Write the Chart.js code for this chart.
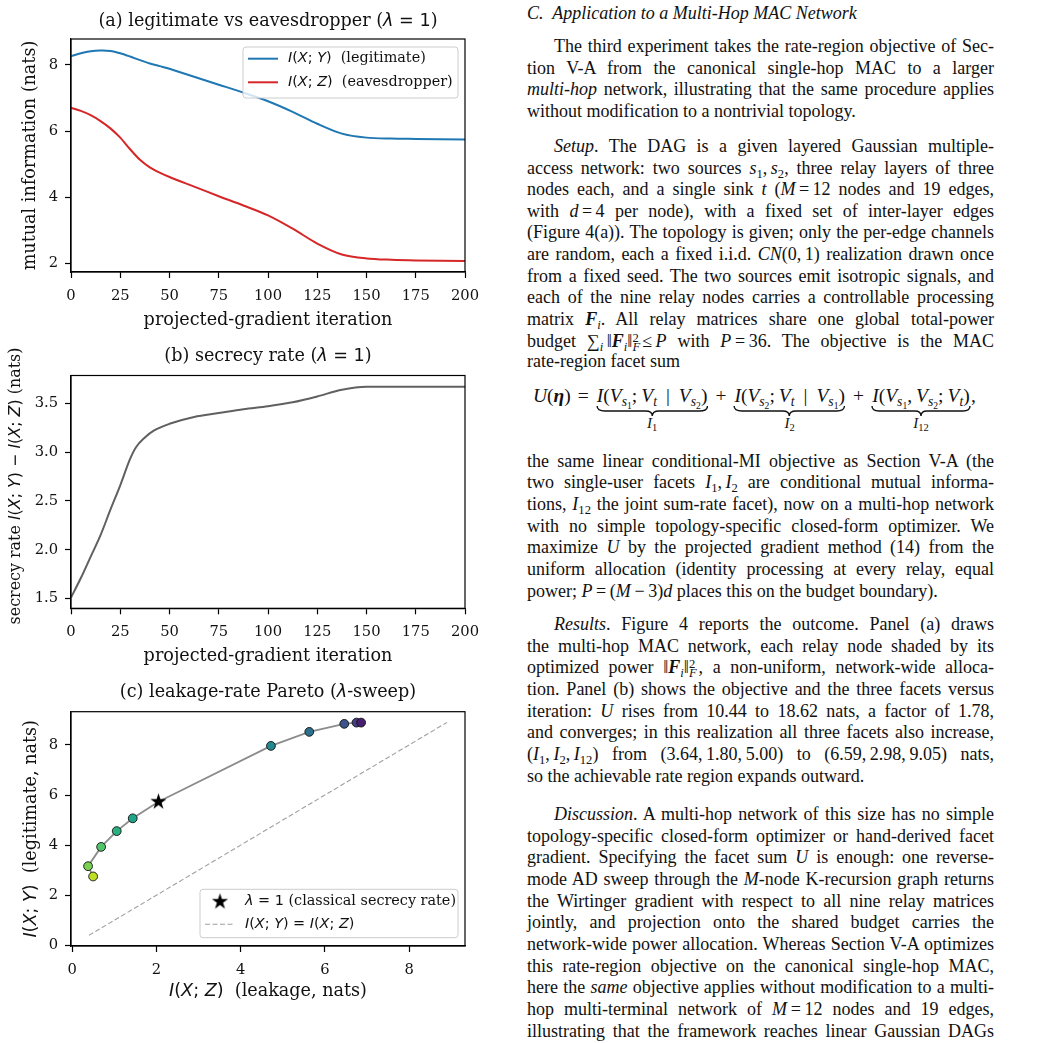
<!DOCTYPE html>
<html>
<head>
<meta charset="utf-8">
<script src="https://cdn.jsdelivr.net/npm/chart.js@4.4.1/dist/chart.umd.min.js"></script>
<style>
  html, body { margin: 0; padding: 0; background: #fff; }
  body { width: 1044px; height: 1043px; position: relative; overflow: hidden; }
  canvas { position: absolute; left: 0; }
  #col { position: absolute; left: 527px; top: 0; width: 467px; height: 1043px;
         font-family: "Liberation Serif", serif; font-size: 18px; color: #111; }
  .l { position: absolute; left: 0; width: 467px; height: 22px; line-height: 22px;
       text-align: justify; text-align-last: justify; word-spacing: -1px; box-sizing: border-box; }
  .i { padding-left: 27px; }
  .e { text-align-last: left; word-spacing: 0; }
  .m { display: inline-block; white-space: nowrap; }
  sub, sup { font-size: 70%; line-height: 0; }
  sub { vertical-align: -0.3em; }
  sup { vertical-align: 0.45em; }
  .ss { display: inline-block; vertical-align: -0.35em; line-height: 0.75em; font-size: 70%; text-align: left; margin-right: 2px; }
  .ss span { display: block; }
  #eq { position: absolute; left: 6px; top: 385px; white-space: nowrap; line-height: 22px; font-size: 19.5px; }
  #eq .op { margin: 0 7px; }
  #eq .bar { margin: 0 9px; }
  #eq .sc { margin-right: 4px; }
  .ub { display: inline-block; vertical-align: top; text-align: center; }
  .ub .t { display: block; padding: 0 1px; }
  .ub svg { display: block; width: 100%; height: 10px; margin-top: -1px; }
  .ub .lab { display: block; font-size: 15px; line-height: 14px; margin-top: 0px; }
</style>
</head>
<body>
<canvas id="ca" width="500" height="340" style="top:0px"></canvas>
<canvas id="cb" width="500" height="350" style="top:330px"></canvas>
<canvas id="cc" width="500" height="383" style="top:660px"></canvas>

<div id="col">
  <div class="l e" style="top:2px"><i>C.&nbsp; Application to a Multi-Hop MAC Network</i></div>

  <div class="l i" style="top:35px">The third experiment takes the rate-region objective of Sec-</div>
  <div class="l" style="top:57px">tion V-A from the canonical single-hop MAC to a larger</div>
  <div class="l" style="top:78px"><i>multi-hop</i> network, illustrating that the same procedure applies</div>
  <div class="l e" style="top:100px">without modification to a nontrivial topology.</div>

  <div class="l i" style="top:135px"><i>Setup</i>. The DAG is a given layered Gaussian multiple-</div>
  <div class="l" style="top:157px">access network: two sources <span class="m"><i>s</i><sub>1</sub>, <i>s</i><sub>2</sub></span>, three relay layers of three</div>
  <div class="l" style="top:178px">nodes each, and a single sink <i>t</i> (<span class="m"><i>M</i> = 12</span> nodes and 19 edges,</div>
  <div class="l" style="top:200px">with <span class="m"><i>d</i> = 4</span> per node), with a fixed set of inter-layer edges</div>
  <div class="l" style="top:221px">(Figure 4(a)). The topology is given; only the per-edge channels</div>
  <div class="l" style="top:243px">are random, each a fixed i.i.d. <span class="m"><i>CN</i>(0, 1)</span> realization drawn once</div>
  <div class="l" style="top:265px">from a fixed seed. The two sources emit isotropic signals, and</div>
  <div class="l" style="top:286px">each of the nine relay nodes carries a controllable processing</div>
  <div class="l" style="top:308px">matrix <span class="m"><b><i>F</i></b><sub><i>i</i></sub></span>. All relay matrices share one global total-power</div>
  <div class="l" style="top:330px">budget <span class="m">∑<sub><i>i</i></sub>&#8201;‖<b><i>F</i></b><sub><i>i</i></sub>‖<span class="ss"><span>2</span><span><i>F</i></span></span>≤&#8201;<i>P</i></span> with <span class="m"><i>P</i>&#8201;=&#8201;36</span>. The objective is the MAC</div>
  <div class="l e" style="top:350px">rate-region facet sum</div>

  <div id="eq">
    <span><i>U</i>(<b><i>η</i></b>)<span class="op">=</span></span><span class="ub"><span class="t"><i>I</i>(<i>V</i><sub><i>s</i><sub>1</sub></sub><span class="sc">;</span><i>V</i><sub><i>t</i></sub><span class="bar">|</span><i>V</i><sub><i>s</i><sub>2</sub></sub>)</span><svg viewBox="0 0 100 10" preserveAspectRatio="none"><path d="M1,0 Q1,5 8,5 L44,5 Q50,5 50,10 Q50,5 56,5 L92,5 Q99,5 99,0" fill="none" stroke="#111" stroke-width="1.4" vector-effect="non-scaling-stroke"/></svg><span class="lab"><i>I</i><sub>1</sub></span></span><span class="op">+</span><span class="ub"><span class="t"><i>I</i>(<i>V</i><sub><i>s</i><sub>2</sub></sub><span class="sc">;</span><i>V</i><sub><i>t</i></sub><span class="bar">|</span><i>V</i><sub><i>s</i><sub>1</sub></sub>)</span><svg viewBox="0 0 100 10" preserveAspectRatio="none"><path d="M1,0 Q1,5 8,5 L44,5 Q50,5 50,10 Q50,5 56,5 L92,5 Q99,5 99,0" fill="none" stroke="#111" stroke-width="1.4" vector-effect="non-scaling-stroke"/></svg><span class="lab"><i>I</i><sub>2</sub></span></span><span class="op">+</span><span class="ub"><span class="t"><i>I</i>(<i>V</i><sub><i>s</i><sub>1</sub></sub><span class="sc">,</span><i>V</i><sub><i>s</i><sub>2</sub></sub><span class="sc">;</span><i>V</i><sub><i>t</i></sub>)</span><svg viewBox="0 0 100 10" preserveAspectRatio="none"><path d="M1,0 Q1,5 8,5 L44,5 Q50,5 50,10 Q50,5 56,5 L92,5 Q99,5 99,0" fill="none" stroke="#111" stroke-width="1.4" vector-effect="non-scaling-stroke"/></svg><span class="lab"><i>I</i><sub>12</sub></span></span><span>,</span>
  </div>

  <div class="l" style="top:450px">the same linear conditional-MI objective as Section V-A (the</div>
  <div class="l" style="top:471px">two single-user facets <span class="m"><i>I</i><sub>1</sub>, <i>I</i><sub>2</sub></span> are conditional mutual informa-</div>
  <div class="l" style="top:493px">tions, <i>I</i><sub>12</sub> the joint sum-rate facet), now on a multi-hop network</div>
  <div class="l" style="top:515px">with no simple topology-specific closed-form optimizer. We</div>
  <div class="l" style="top:536px">maximize <i>U</i> by the projected gradient method (14) from the</div>
  <div class="l" style="top:558px">uniform allocation (identity processing at every relay, equal</div>
  <div class="l e" style="top:580px">power; <span class="m"><i>P</i>&#8201;=&#8201;(<i>M</i>&#8201;−&#8201;3)<i>d</i></span> places this on the budget boundary).</div>

  <div class="l i" style="top:613px"><i>Results</i>. Figure 4 reports the outcome. Panel (a) draws</div>
  <div class="l" style="top:635px">the multi-hop MAC network, each relay node shaded by its</div>
  <div class="l" style="top:656px">optimized power <span class="m">‖<b><i>F</i></b><sub><i>i</i></sub>‖<span class="ss"><span>2</span><span><i>F</i></span></span></span>, a non-uniform, network-wide alloca-</div>
  <div class="l" style="top:678px">tion. Panel (b) shows the objective and the three facets versus</div>
  <div class="l" style="top:700px">iteration: <i>U</i> rises from 10.44 to 18.62 nats, a factor of 1.78,</div>
  <div class="l" style="top:721px">and converges; in this realization all three facets also increase,</div>
  <div class="l" style="top:743px"><span class="m">(<i>I</i><sub>1</sub>,&#8201;<i>I</i><sub>2</sub>,&#8201;<i>I</i><sub>12</sub>)</span> from <span class="m">(3.64,&#8201;1.80,&#8201;5.00)</span> to <span class="m">(6.59,&#8201;2.98,&#8201;9.05)</span> nats,</div>
  <div class="l e" style="top:765px">so the achievable rate region expands outward.</div>

  <div class="l i" style="top:803px"><i>Discussion</i>. A multi-hop network of this size has no simple</div>
  <div class="l" style="top:825px">topology-specific closed-form optimizer or hand-derived facet</div>
  <div class="l" style="top:846px">gradient. Specifying the facet sum <i>U</i> is enough: one reverse-</div>
  <div class="l" style="top:868px">mode AD sweep through the <i>M</i>-node K-recursion graph returns</div>
  <div class="l" style="top:890px">the Wirtinger gradient with respect to all nine relay matrices</div>
  <div class="l" style="top:911px">jointly, and projection onto the shared budget carries the</div>
  <div class="l" style="top:933px">network-wide power allocation. Whereas Section V-A optimizes</div>
  <div class="l" style="top:955px">this rate-region objective on the canonical single-hop MAC,</div>
  <div class="l" style="top:976px">here the <i>same</i> objective applies without modification to a multi-</div>
  <div class="l" style="top:998px">hop multi-terminal network of <span class="m"><i>M</i>&#8201;=&#8201;12</span> nodes and 19 edges,</div>
  <div class="l" style="top:1020px">illustrating that the framework reaches linear Gaussian DAGs</div>
</div>

<script>
// (a) legitimate vs eavesdropper, lambda = 1
const iterA = [0, 5, 10, 15, 20, 25, 30, 35, 40, 45, 50, 62.5, 75, 87.5, 100, 112.5, 125, 137.5, 150, 162.5, 175, 200];
const legitA = [8.26, 8.35, 8.41, 8.43, 8.42, 8.35, 8.25, 8.14, 8.04, 7.96, 7.88, 7.64, 7.40, 7.16, 6.90, 6.58, 6.22, 5.92, 5.80, 5.77, 5.76, 5.74];
const eaveA = [6.70, 6.61, 6.48, 6.30, 6.08, 5.80, 5.45, 5.13, 4.90, 4.74, 4.61, 4.32, 4.03, 3.75, 3.45, 3.05, 2.60, 2.27, 2.15, 2.11, 2.09, 2.07];
const xTicksAB = [0, 25, 50, 75, 100, 125, 150, 175, 200];
const yTicksA = [2, 4, 6, 8];

// (b) secrecy rate
const iterB = [0, 5, 10, 15, 20, 25, 30, 33, 37.5, 42, 50, 62.5, 75, 87.5, 100, 112.5, 125, 137.5, 150, 200];
const secrecyB = [1.51, 1.71, 1.93, 2.15, 2.41, 2.66, 2.93, 3.05, 3.15, 3.22, 3.29, 3.36, 3.40, 3.44, 3.47, 3.51, 3.57, 3.64, 3.67, 3.67];
const yTicksB = [1.5, 2.0, 2.5, 3.0, 3.5];

// (c) leakage-rate Pareto, lambda sweep
const sweepLeak = [0.50, 0.38, 0.69, 1.06, 1.44, 4.72, 5.63, 6.46, 6.75, 6.86];
const sweepLegit = [2.75, 3.16, 3.93, 4.56, 5.07, 7.96, 8.52, 8.84, 8.89, 8.89];
const starLeak = 2.05, starLegit = 5.73;
const diagEnds = [0.4, 8.9];
const ticksC = [0, 2, 4, 6, 8];
const sweepColors = ["#bddf26", "#7ad151", "#52c569", "#2ab07f", "#20a386", "#23898e", "#2d708e", "#3b528b", "#433e85", "#481f70"];

const SERIF = '"DejaVu Serif"', SANS = '"DejaVu Sans"';
const TFS = 14.7, FS = 17.6, LFS = 14.4, BFS = 15.9, INK = "#111";

function ser(s, size = FS) { return [[s, `${size}px ${SERIF}`]]; }
function mth(s, size = FS) {
  const out = [];
  for (const ch of s) {
    const f = /[A-Za-zλ]/.test(ch) ? `italic ${size}px ${SANS}` : `${size}px ${SANS}`;
    if (out.length && out[out.length - 1][1] === f) out[out.length - 1][0] += ch;
    else out.push([ch, f]);
  }
  return out;
}

function drawRich(ctx, segs, x, y, rot, align) {
  ctx.save();
  ctx.translate(x, y);
  ctx.rotate(rot);
  ctx.textBaseline = "middle";
  ctx.textAlign = "left";
  let w = 0;
  segs.forEach(([s, f]) => { ctx.font = f; w += ctx.measureText(s).width; });
  let cx = align === "left" ? 0 : -w / 2;
  segs.forEach(([s, f]) => { ctx.font = f; ctx.fillText(s, cx, 0); cx += ctx.measureText(s).width; });
  ctx.restore();
}

function legendBox(ctx, x0, y0, x1, y1) {
  ctx.beginPath();
  ctx.roundRect(x0, y0, x1 - x0, y1 - y0, 3);
  ctx.fillStyle = "rgba(255,255,255,0.8)";
  ctx.fill();
  ctx.strokeStyle = "#cccccc";
  ctx.lineWidth = 1;
  ctx.stroke();
}

// frame, titles, axis labels and legend, per chart
function decor(texts, legend) {
  return {
    id: "decor",
    afterDraw(chart) {
      const ctx = chart.ctx, a = chart.chartArea;
      ctx.save();
      ctx.strokeStyle = "#000";
      ctx.lineWidth = 1.2;
      ctx.strokeRect(a.left, a.top, a.right - a.left, a.bottom - a.top);
      ctx.fillStyle = INK;
      texts.forEach(t => drawRich(ctx, t.segs, t.x, t.y, t.rot || 0, t.align));
      if (legend) legend(ctx);
      ctx.restore();
    }
  };
}

function axis(pos, min, max, ticks, size, fmt) {
  return {
    type: "linear", position: pos, min, max,
    afterBuildTicks: s => { s.ticks = ticks.map(v => ({ value: v })); },
    afterFit: s => { if (pos === "bottom") s.height = size; else s.width = size; },
    ticks: {
      font: { family: "DejaVu Serif", size: TFS }, color: INK,
      padding: pos === "bottom" ? 9 : 7, maxRotation: 0, autoSkip: false,
      callback: v => fmt(v)
    },
    grid: { display: true, drawOnChartArea: false, drawTicks: true, tickLength: 6, tickWidth: 1.2, tickColor: "#000" },
    border: { display: true, color: "#000", width: 1.2 }
  };
}

function baseOptions(padTop, padRight, scales) {
  return {
    responsive: false, animation: false, events: [],
    layout: { padding: { top: padTop, right: padRight, left: 0, bottom: 0 } },
    plugins: { legend: { display: false }, tooltip: { enabled: false } },
    scales
  };
}

const pts = (xs, ys) => xs.map((x, i) => ({ x, y: ys[i] }));

// (a)
new Chart(document.getElementById("ca"), {
  type: "line",
  data: {
    datasets: [
      { data: pts(iterA, legitA), borderColor: "#1f77b4", borderWidth: 2, pointRadius: 0, tension: 0.3 },
      { data: pts(iterA, eaveA), borderColor: "#d62728", borderWidth: 2, pointRadius: 0, tension: 0.3 }
    ]
  },
  options: baseOptions(39, 35, {
    x: axis("bottom", 0, 200, xTicksAB, 68, v => String(v)),
    y: axis("left", 1.74, 8.78, yTicksA, 71, v => String(v))
  }),
  plugins: [decor([
    { segs: [...ser("(a) legitimate vs eavesdropper ("), ...mth("λ = 1"), ...ser(")")], x: 268, y: 21 },
    { segs: ser("mutual information (nats)"), x: 30, y: 155.5, rot: -Math.PI / 2 },
    { segs: ser("projected-gradient iteration"), x: 268, y: 320 }
  ], ctx => {
    legendBox(ctx, 243, 47, 458, 98);
    [["#1f77b4", 58.7, [...mth("I(X; Y)", LFS), ...ser("  (legitimate)", LFS)]],
     ["#d62728", 82.3, [...mth("I(X; Z)", LFS), ...ser("  (eavesdropper)", LFS)]]].forEach(([c, y, segs]) => {
      ctx.strokeStyle = c; ctx.lineWidth = 2;
      ctx.beginPath(); ctx.moveTo(248, y); ctx.lineTo(278, y); ctx.stroke();
      ctx.fillStyle = INK;
      drawRich(ctx, segs, 288, y, 0, "left");
    });
  })]
});

// (b)
new Chart(document.getElementById("cb"), {
  type: "line",
  data: {
    datasets: [
      { data: pts(iterB, secrecyB), borderColor: "#606060", borderWidth: 2, pointRadius: 0, cubicInterpolationMode: "monotone" }
    ]
  },
  options: baseOptions(45.5, 35, {
    x: axis("bottom", 0, 200, xTicksAB, 71.7, v => String(v)),
    y: axis("left", 1.40, 3.785, yTicksB, 71, v => v.toFixed(1))
  }),
  plugins: [decor([
    { segs: [...ser("(b) secrecy rate ("), ...mth("λ = 1"), ...ser(")")], x: 268, y: 26.7 },
    { segs: [...ser("secrecy rate ", BFS), ...mth("I(X; Y) − I(X; Z)", BFS), ...ser(" (nats)", BFS)], x: 16, y: 156, rot: -Math.PI / 2 },
    { segs: ser("projected-gradient iteration"), x: 268, y: 326 }
  ])]
});

// (c)
function starImg(r) {
  const s = Math.ceil(2 * r + 2), c = document.createElement("canvas");
  c.width = c.height = s;
  const g = c.getContext("2d");
  g.translate(s / 2, s / 2);
  g.beginPath();
  for (let i = 0; i < 10; i++) {
    const rr = i % 2 ? r * 0.382 : r, ang = -Math.PI / 2 + i * Math.PI / 5;
    g.lineTo(rr * Math.cos(ang), rr * Math.sin(ang));
  }
  g.closePath();
  g.fillStyle = "#000";
  g.fill();
  return c;
}
const star = starImg(8.5);

const sweepPts = pts(sweepLeak, sweepLegit);
const pathPts = sweepPts.concat([{ x: starLeak, y: starLegit }]).sort((p, q) => p.y - q.y);

new Chart(document.getElementById("cc"), {
  type: "scatter",
  data: {
    datasets: [
      { data: [{ x: starLeak, y: starLegit }], pointStyle: star, pointRadius: 8 },
      { data: sweepPts, backgroundColor: sweepColors, borderColor: "#111", borderWidth: 0.9, pointRadius: 4.4 },
      { data: pathPts, showLine: true, borderColor: "#8c8c8c", borderWidth: 1.8, pointRadius: 0 },
      { data: pts(diagEnds, diagEnds), showLine: true, borderColor: "#a0a0a0", borderWidth: 1.1, borderDash: [5, 2.5], pointRadius: 0 }
    ]
  },
  options: baseOptions(51.7, 35, {
    x: axis("bottom", -0.025, 9.325, ticksC, 97, v => String(v)),
    y: axis("left", -0.025, 9.325, ticksC, 71, v => String(v))
  }),
  plugins: [decor([
    { segs: [...ser("(c) leakage-rate Pareto ("), ...mth("λ"), ...ser("-sweep)")], x: 268, y: 32.7 },
    { segs: [...mth("I(X; Y)"), ...ser("  (legitimate, nats)")], x: 31, y: 168.8, rot: -Math.PI / 2 },
    { segs: [...mth("I(X; Z)"), ...ser("  (leakage, nats)")], x: 268, y: 331.7 }
  ], ctx => {
    legendBox(ctx, 200, 229.3, 458, 277.7);
    ctx.drawImage(star, 220 - star.width / 2, 241.7 - star.height / 2);
    ctx.strokeStyle = "#a0a0a0"; ctx.lineWidth = 1.1; ctx.setLineDash([5, 2.5]);
    ctx.beginPath(); ctx.moveTo(205, 264.3); ctx.lineTo(233, 264.3); ctx.stroke();
    ctx.setLineDash([]);
    ctx.fillStyle = INK;
    drawRich(ctx, [...mth("λ = 1", LFS), ...ser(" (classical secrecy rate)", LFS)], 245, 241.7, 0, "left");
    drawRich(ctx, mth("I(X; Y) = I(X; Z)", LFS), 245, 264.3, 0, "left");
  })]
});
</script>
</body>
</html>
